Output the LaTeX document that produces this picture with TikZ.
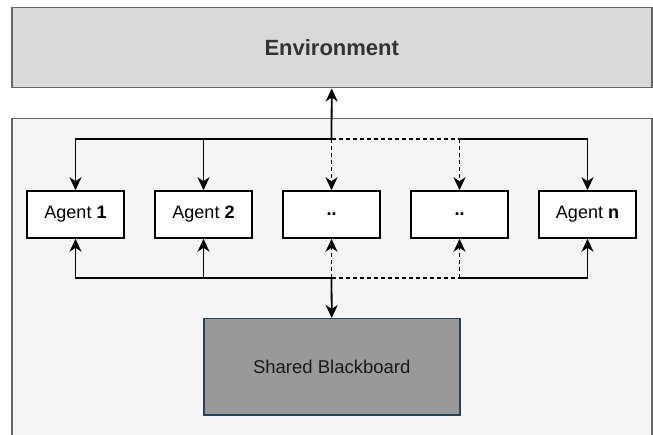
\documentclass[tikz,border=0pt]{standalone}
\usepackage{fontspec}
\setmainfont{Liberation Sans}
\usetikzlibrary{arrows.meta}

\definecolor{envfill}{HTML}{D9D9D9}
\definecolor{boxline}{HTML}{666666}
\definecolor{panelfill}{HTML}{F5F5F5}
\definecolor{boardfill}{HTML}{999999}
\definecolor{boardline}{HTML}{23445D}
\definecolor{envtext}{HTML}{333333}
\definecolor{boardtext}{HTML}{1A1A1A}

\tikzset{
  envbox/.style={draw=boxline, fill=envfill, line width=1.5pt, anchor=north west,
    minimum width=640pt, minimum height=80pt, inner sep=0pt,
    font=\fontsize{22}{26}\selectfont\bfseries, text=envtext},
  panel/.style={draw=boxline, fill=panelfill, line width=1.5pt, anchor=north west,
    minimum width=640pt, minimum height=340pt, inner sep=0pt},
  agentbox/.style={draw=black, fill=white, line width=1.5pt,
    minimum width=97pt, minimum height=47pt, inner sep=0pt,
    font=\fontsize{18}{22}\selectfont},
  boardbox/.style={draw=boardline, fill=boardfill, line width=1.5pt, anchor=north west,
    minimum width=256pt, minimum height=96pt, inner sep=0pt,
    font=\fontsize{18.5}{22}\selectfont, text=boardtext},
  link/.style={draw=black, line width=1.8pt},
  tip/.style={-{Stealth[length=13pt, width=12pt, inset=4pt]}},
  pit/.style={{Stealth[length=13pt, width=12pt, inset=4pt]}-},
  dashlink/.style={dash pattern=on 4pt off 3pt}
}

\begin{document}
\begin{tikzpicture}[x=1pt, y=-1pt]
  \useasboundingbox (0,0) rectangle (653,435);
  \fill[white] (0,0) rectangle (653,435);

  % outer blocks
  \node[envbox] (env) at (11,7) {Environment};
  \node[panel] (panel) at (11,118) {};

  % agents
  \node[agentbox] (a1) at (75.5,214.5) {Agent \textbf{1}};
  \node[agentbox] (a2) at (203.5,214.5) {Agent \textbf{2}};
  \node[agentbox] (a3) at (331.5,214.5) {\textbf{..}};
  \node[agentbox] (a4) at (459.5,214.5) {\textbf{..}};
  \node[agentbox] (a5) at (587.5,214.5) {Agent \textbf{n}};

  % shared store
  \node[boardbox] (board) at (203,318) {Shared Blackboard};

  % bus junctions
  \coordinate (tj) at (331.5,139);
  \coordinate (bj) at (331.5,278);

  % upper bus: environment to agents
  \draw[link, pit] (a1.north) -- (a1 |- tj) -- (tj);
  \draw[link, tip] (a2 |- tj) -- (a2.north);
  \draw[link, dashlink] (tj) -- (a4 |- tj);
  \draw[link, tip] (a4 |- tj) -- (a5 |- tj) -- (a5.north);
  \draw[link, dashlink, tip] (tj) -- (a3.north);
  \draw[link, dashlink, tip] (a4 |- tj) -- (a4.north);
  \draw[link, tip] (tj) -- (env.south);

  % lower bus: blackboard to agents
  \draw[link, pit] (a1.south) -- (a1 |- bj) -- (bj);
  \draw[link, tip] (a2 |- bj) -- (a2.south);
  \draw[link, dashlink] (bj) -- (a4 |- bj);
  \draw[link, tip] (a4 |- bj) -- (a5 |- bj) -- (a5.south);
  \draw[link, dashlink, tip] (bj) -- (a3.south);
  \draw[link, dashlink, tip] (a4 |- bj) -- (a4.south);
  \draw[link, tip] (bj) -- (board.north);
\end{tikzpicture}
\end{document}
